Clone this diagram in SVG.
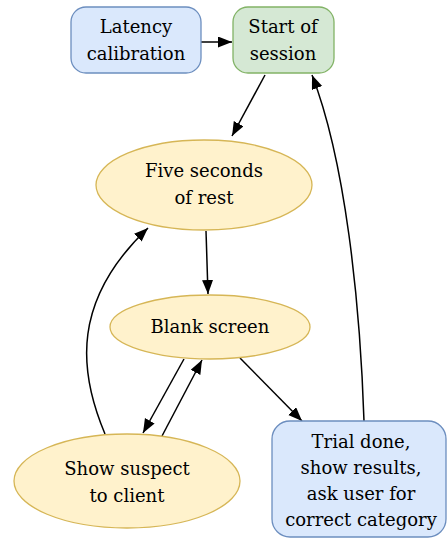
<svg xmlns="http://www.w3.org/2000/svg" width="448" height="540" viewBox="0 0 448 540">
<style>
.blue{fill:#dae8fc;stroke:#6c8ebf;stroke-width:1.3}
.green{fill:#d5e8d4;stroke:#82b366;stroke-width:1.3}
.yellow{fill:#fff2cc;stroke:#d6b656;stroke-width:1.3}
.edge{fill:none;stroke:#000;stroke-width:1.5;marker-end:url(#arr)}
</style>
<defs>
<marker id="arr" markerUnits="userSpaceOnUse" markerWidth="16" markerHeight="12" refX="14" refY="5.5" orient="auto">
<path d="M0,0 L14,5.5 L0,11 Z" fill="#000"/>
</marker>
</defs>
<g id="edges">
<path class="edge" d="M201,42 L232,42"/>
<path class="edge" d="M265,75 L232,136"/>
<path class="edge" d="M364,421 C360,300 345,160 312,75"/>
<path class="edge" d="M206,231 L208,294"/>
<path class="edge" d="M184,359 L143,433"/>
<path class="edge" d="M162,436 L202,360"/>
<path class="edge" d="M105,434 C78,370 72,300 148,228"/>
<path class="edge" d="M240,358 L302,421"/>
</g>
<g font-family="DejaVu Serif, Liberation Serif, serif" font-size="18" text-anchor="middle" fill="#000">
<g id="latency">
<rect class="blue" x="71" y="7" width="130" height="66" rx="15"/>
<text x="136" y="33">Latency</text>
<text x="136" y="60">calibration</text>
</g>
<g id="start">
<rect class="green" x="233" y="7" width="101" height="66" rx="15"/>
<text x="283" y="33">Start of</text>
<text x="283" y="60">session</text>
</g>
<g id="rest">
<ellipse class="yellow" cx="204" cy="185" rx="108" ry="45"/>
<text x="204" y="177">Five seconds</text>
<text x="204" y="204">of rest</text>
</g>
<g id="blank">
<ellipse class="yellow" cx="210" cy="327" rx="100" ry="32"/>
<text x="210" y="333">Blank screen</text>
</g>
<g id="suspect">
<ellipse class="yellow" cx="127" cy="481" rx="113" ry="47"/>
<text x="127" y="475">Show suspect</text>
<text x="127" y="502">to client</text>
</g>
<g id="trial">
<rect class="blue" x="272" y="421" width="174" height="116" rx="18"/>
<text x="361" y="448">Trial done,</text>
<text x="361" y="474">show results,</text>
<text x="361" y="500">ask user for</text>
<text x="361" y="526">correct category</text>
</g>
</g>
</svg>
